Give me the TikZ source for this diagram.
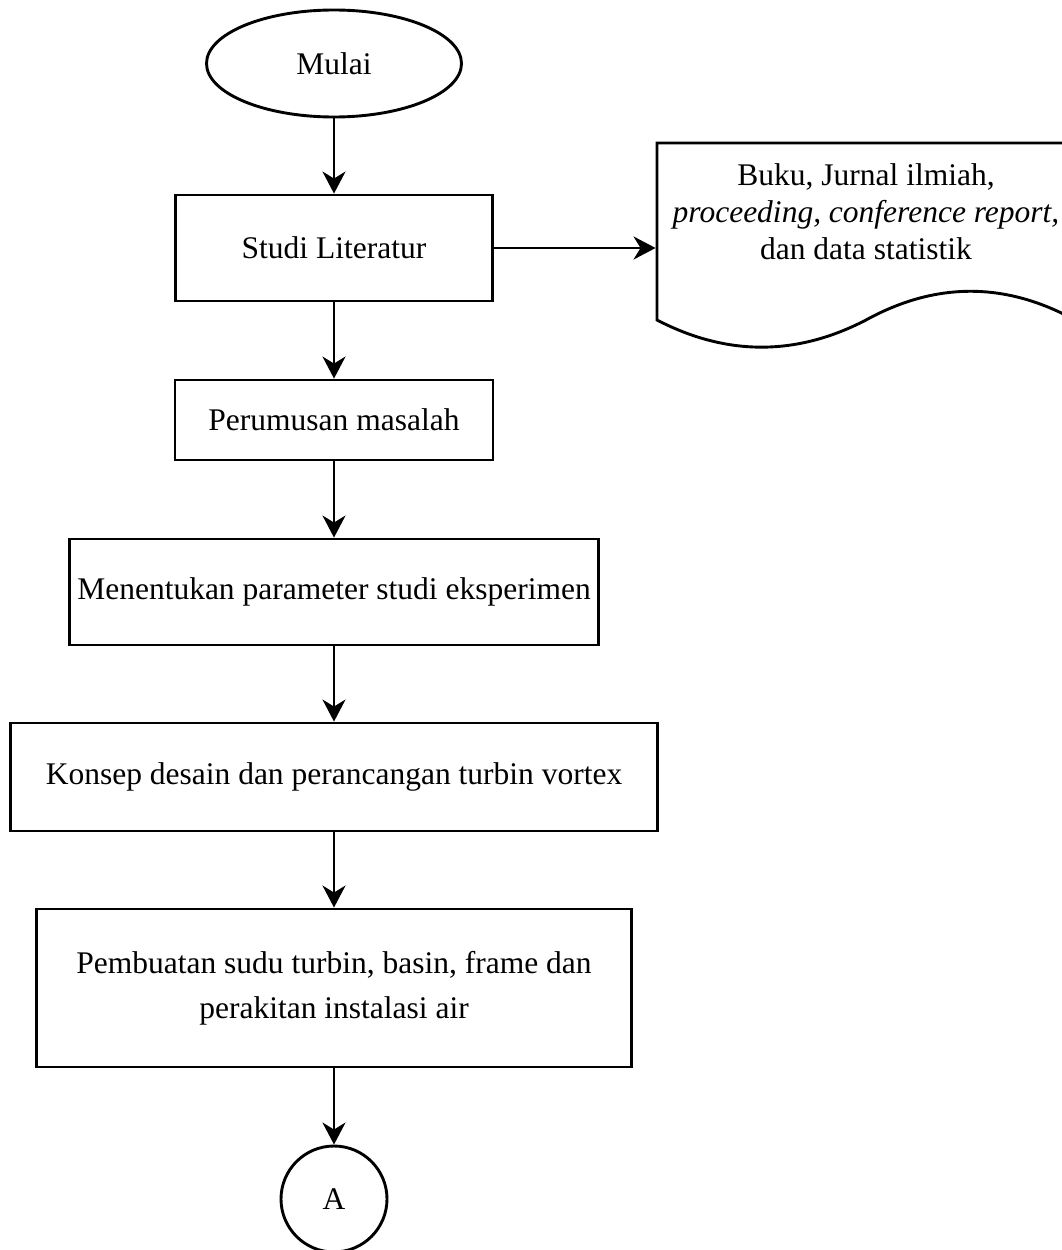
\documentclass[tikz,border=0pt]{standalone}
\usepackage{fontspec}
\setmainfont{Liberation Serif}
\usetikzlibrary{arrows.meta,shapes.geometric}

\begin{document}
\begin{tikzpicture}[x=1pt,y=-1pt,line width=2.9pt,
  font=\fontsize{31.5}{37}\selectfont,
  proses/.style={draw,rectangle,inner sep=0pt,align=center},
  alur/.style={-{Stealth[length=22pt,width=23pt,inset=7pt]}}]
\useasboundingbox (0,0) rectangle (1061,1250);
\node[ellipse,draw,minimum width=255,minimum height=107,inner sep=0pt] at (334,63.5) (mulai) {Mulai};
\node[proses,minimum width=317,minimum height=106] at (334,248) (studi) {Studi Literatur};
\node[proses,minimum width=318,minimum height=80] at (334,420) (masalah) {Perumusan masalah};
\node[proses,minimum width=529,minimum height=106] at (334,592) (parameter) {Menentukan parameter studi eksperimen};
\node[proses,minimum width=647,minimum height=108] at (334,777) (konsep) {Konsep desain dan perancangan turbin vortex};
\node[proses,minimum width=595,minimum height=158] at (334,988) (pembuatan) {Pembuatan sudu turbin, basin, frame dan\\[8pt] perakitan instalasi air};
\node[circle,draw,minimum size=106,inner sep=0pt] at (334,1199) (A) {A};
\node[inner sep=0pt,minimum width=418,minimum height=138,align=center] at (866,212) (sumber) {Buku, Jurnal ilmiah,\\ \textit{proceeding, conference report,}\\ dan data statistik};
\draw (657,320) -- (657,143) -- (1075,143) -- (1075,320) .. controls (1005.3,281.7) and (935.7,281.7) .. (866,320) .. controls (796.3,356.2) and (726.7,356.2) .. (657,320) -- cycle;
\draw[alur] (mulai) -- (studi);
\draw[alur] (studi) -- (studi -| sumber.west);
\draw[alur] (studi) -- (masalah);
\draw[alur] (masalah) -- (parameter);
\draw[alur] (parameter) -- (konsep);
\draw[alur] (konsep) -- (pembuatan);
\draw[alur] (pembuatan) -- (A);
\end{tikzpicture}
\end{document}
